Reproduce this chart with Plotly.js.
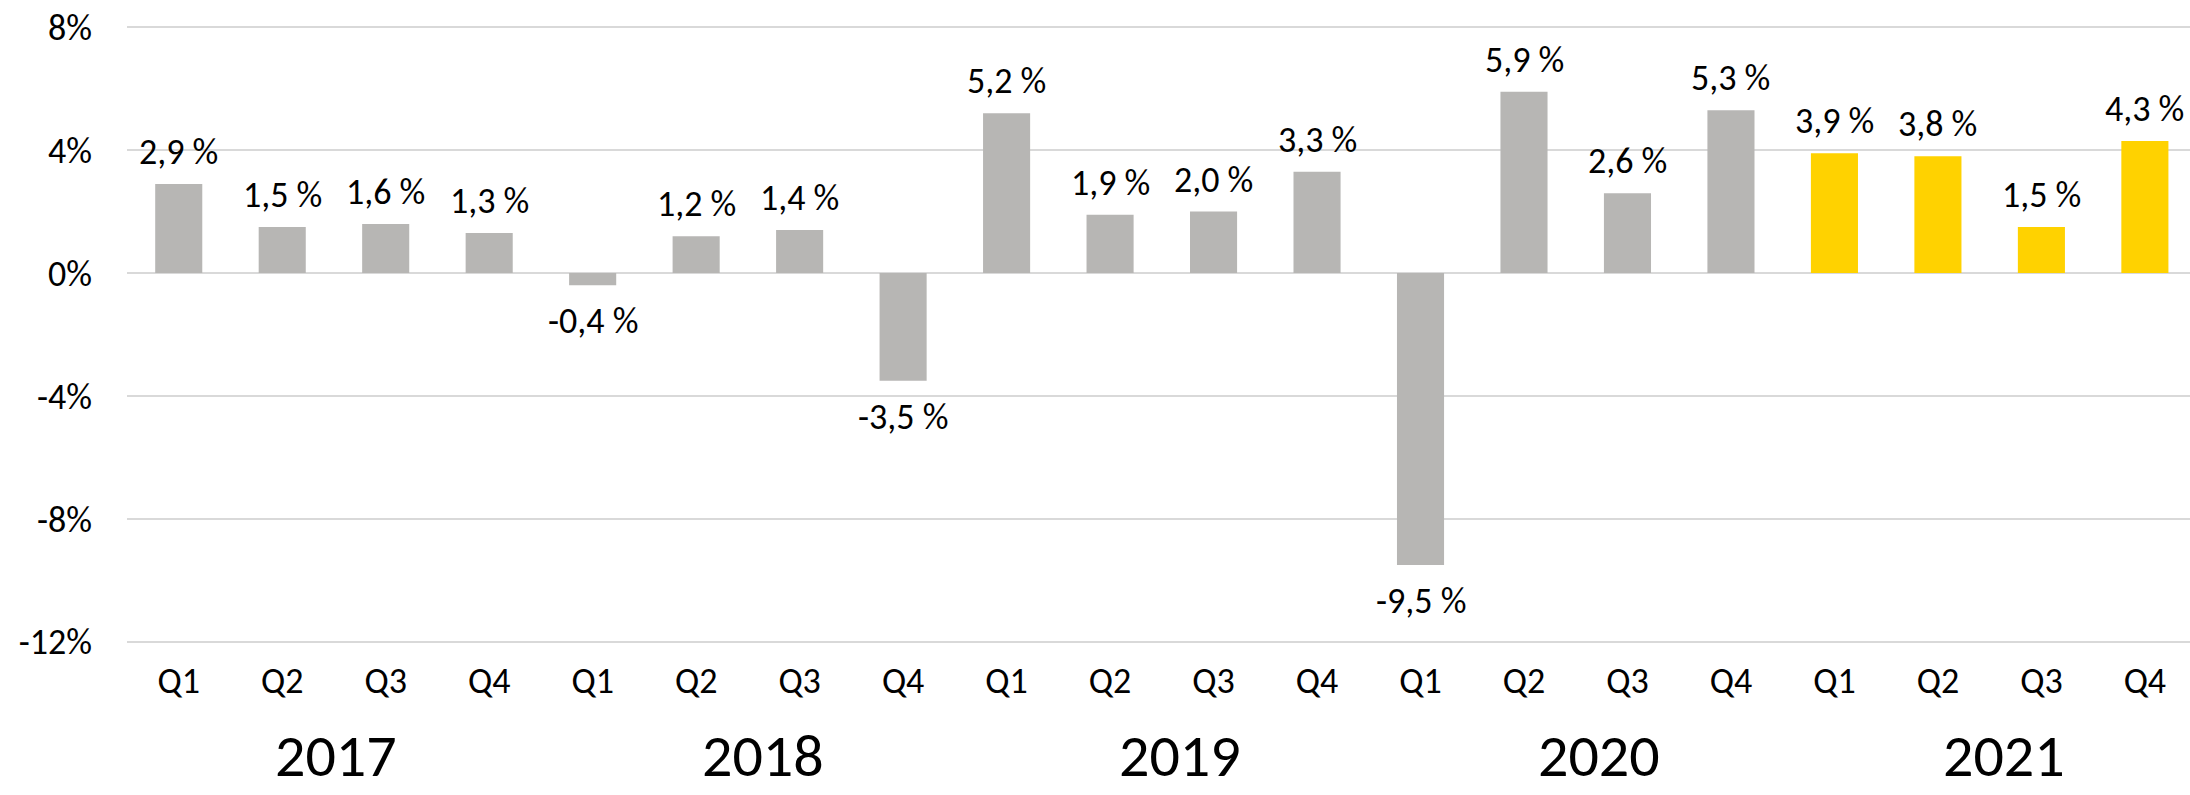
<!DOCTYPE html>
<html>
<head>
<meta charset="utf-8">
<script src="https://cdn.plot.ly/plotly-3.0.1.min.js"></script>
<style>html,body{margin:0;padding:0;background:#fff;}#chart{width:2190px;height:795px;}</style>
</head>
<body>
<div id="chart"></div>
<script>
// ---- data ----
var years = ['2017', '2017', '2017', '2017', '2018', '2018', '2018', '2018', '2019', '2019', '2019', '2019', '2020', '2020', '2020', '2020', '2021', '2021', '2021', '2021'];
var quarters = ['Q1', 'Q2', 'Q3', 'Q4', 'Q1', 'Q2', 'Q3', 'Q4', 'Q1', 'Q2', 'Q3', 'Q4', 'Q1', 'Q2', 'Q3', 'Q4', 'Q1', 'Q2', 'Q3', 'Q4'];
var growth = [2.9, 1.5, 1.6, 1.3, -0.4, 1.2, 1.4, -3.5, 5.2, 1.9, 2.0, 3.3, -9.5, 5.9, 2.6, 5.3, 3.9, 3.8, 1.5, 4.3];
var yearLabels = ['2017', '2018', '2019', '2020', '2021'];
var yTickVals = [8, 4, 0, -4, -8, -12];
var yTickText = ['8%', '4%', '0%', '-4%', '-8%', '-12%'];
var highlightYear = '2021';

// ---- styles ----
var FONT = "Carlito, 'Liberation Sans Narrow', 'Liberation Sans', Arial, sans-serif";
var GREY = '#B7B6B4';
var YELLOW = '#FFD200';
var yearLabelPos = [1.52, 5.65, 9.68, 13.72, 17.64];

var idx = growth.map(function (_, i) { return i; });
var colors = years.map(function (y) { return y === highlightYear ? YELLOW : GREY; });

var trace = {
  type: 'bar',
  x: idx,
  y: growth,
  marker: { color: colors, line: { width: 0 } },
  hoverinfo: 'skip'
};

var annotations = [];
growth.forEach(function (v, i) {
  var pos = v >= 0;
  annotations.push({
    x: i, y: v, xref: 'x', yref: 'y',
    text: v.toFixed(1).replace('.', ',') + ' %',
    showarrow: false,
    xanchor: 'center',
    yanchor: pos ? 'bottom' : 'top',
    yshift: pos ? 8 : -12,
    font: { family: FONT, size: 36, color: '#000' }
  });
});
yearLabels.forEach(function (y, k) {
  annotations.push({
    x: yearLabelPos[k], y: -0.232, xref: 'x', yref: 'paper',
    text: y, showarrow: false, xanchor: 'center', yanchor: 'bottom',
    font: { family: FONT, size: 60, color: '#000' }
  });
});

var layout = {
  width: 2190, height: 795,
  margin: { l: 127, r: 0, t: 18, b: 146.5 },
  paper_bgcolor: '#fff', plot_bgcolor: '#fff',
  showlegend: false,
  bargap: 0.545,
  font: { family: FONT, size: 36, color: '#000' },
  xaxis: {
    type: 'linear',
    range: [-0.5, 19.436],
    tickmode: 'array', tickvals: idx, ticktext: quarters,
    showgrid: false, zeroline: false, showline: false,
    ticks: '', ticklabelstandoff: 8,
    tickfont: { family: FONT, size: 36, color: '#000' },
    fixedrange: true
  },
  yaxis: {
    range: [-12.2, 8.3],
    tickmode: 'array', tickvals: yTickVals, ticktext: yTickText,
    showgrid: true, gridcolor: '#D9D9D9', gridwidth: 1.5,
    zeroline: true, zerolinecolor: '#D9D9D9', zerolinewidth: 1.5,
    showline: false, ticks: '', ticklabelstandoff: 34,
    tickfont: { family: FONT, size: 36, color: '#000' },
    fixedrange: true
  },
  annotations: annotations
};

Plotly.newPlot('chart', [trace], layout, { displayModeBar: false, staticPlot: true });
</script>
</body>
</html>
